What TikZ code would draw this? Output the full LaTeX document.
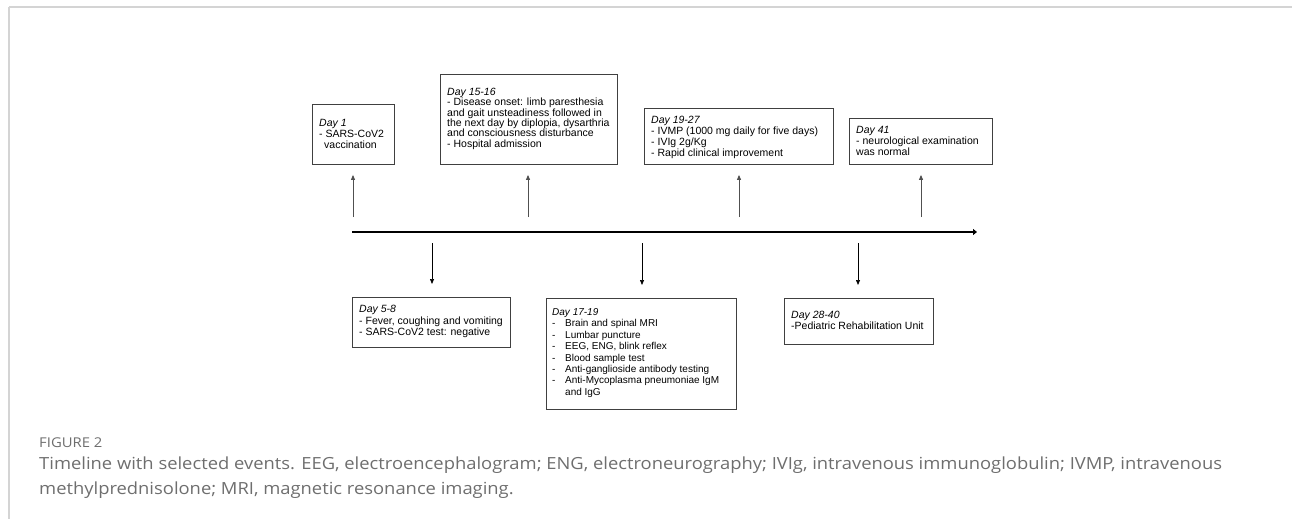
\documentclass[tikz,border=0pt]{standalone}
\usepackage{fontspec}
\setmainfont{Liberation Sans}
\newfontfamily\capfont[FakeStretch=1.1]{Open Sans}
\usetikzlibrary{arrows.meta}
\definecolor{framegray}{HTML}{D4D4D4}
\definecolor{capgray}{HTML}{6E6E6E}
\definecolor{boxline}{HTML}{404040}
\definecolor{arrgray}{HTML}{505050}
\newcommand\tllines[2]{\vtop{\baselineskip=#1\lineskiplimit=-100pt\lineskip=0pt\halign{##\hfil\cr #2\crcr}}}
\newcommand\itm[1]{\makebox[13pt][l]{-}#1}
\tikzset{
  evbox/.style={draw=boxline, line width=0.9pt, rectangle, inner sep=0pt, anchor=north west},
  evtext/.style={anchor=base west, inner sep=0pt, font=\fontsize{10.5}{10.5}\selectfont},
  uparr/.style={arrgray, line width=0.9pt, -{Triangle[length=5pt,width=4pt]}, shorten <=15pt, shorten >=10pt},
  downarr/.style={black, line width=0.7pt, -{Triangle[length=5pt,width=4pt]}, shorten <=11pt, shorten >=13pt},
  tline/.style={black, line width=2.6pt, -{Triangle[length=4pt,width=6pt]}},
}
\begin{document}
\begin{tikzpicture}[x=1pt,y=-1pt]
\useasboundingbox (0,0) rectangle (1292,519);
% frame
\draw[framegray, line width=2pt] (9,7.5) -- (1292,7.5);
\draw[framegray, line width=1.5pt] (9,7) -- (9,519);
% timeline
\coordinate (ts) at (352,232);
\coordinate (te) at (977,232);
\draw[tline] (ts) -- (te);
% top boxes
\node[evbox, minimum width=82pt, minimum height=60pt] (b1) at (312,104) {};
\node[evtext] (b1t) at (319,126.5) {\tllines{11pt}{\textit{Day 1}\cr - SARS-CoV2\cr \hspace*{5pt}vaccination}};
\node[evbox, minimum width=177pt, minimum height=90pt] (b2) at (440,74) {};
\node[evtext] (b2t) at (447,95.5) {\tllines{10.3pt}{\textit{Day 15-16}\cr - Disease onset: limb paresthesia\cr and gait unsteadiness followed in\cr the next day by diplopia, dysarthria\cr and consciousness disturbance\cr - Hospital admission}};
\node[evbox, minimum width=189pt, minimum height=56pt] (b3) at (644,108) {};
\node[evtext] (b3t) at (651,123) {\tllines{11pt}{\textit{Day 19-27}\cr - IVMP (1000 mg daily for five days)\cr - IVIg 2g/Kg\cr - Rapid clinical improvement}};
\node[evbox, minimum width=143pt, minimum height=46pt] (b4) at (849,118) {};
\node[evtext] (b4t) at (856,133) {\tllines{11.3pt}{\textit{Day 41}\cr - neurological examination\cr was normal}};
% bottom boxes
\node[evbox, minimum width=158pt, minimum height=50pt] (c1) at (352,297) {};
\node[evtext] (c1t) at (359,312.5) {\tllines{11.5pt}{\textit{Day 5-8}\cr - Fever, coughing and vomiting\cr - SARS-CoV2 test: negative}};
\node[evbox, minimum width=190pt, minimum height=111pt] (c2) at (546,298) {};
\node[evtext, font=\fontsize{10}{10}\selectfont] (c2t) at (552,315.5) {\tllines{11.4pt}{\textit{Day 17-19}\cr \itm{Brain and spinal MRI}\cr \itm{Lumbar puncture}\cr \itm{EEG, ENG, blink reflex}\cr \itm{Blood sample test}\cr \itm{Anti-ganglioside antibody testing}\cr \itm{Anti-Mycoplasma pneumoniae IgM}\cr \hspace*{13pt}and IgG}};
\node[evbox, minimum width=149pt, minimum height=46pt] (c3) at (784,298) {};
\node[evtext] (c3t) at (791,318.5) {\tllines{10.5pt}{\textit{Day 28-40}\cr -Pediatric Rehabilitation Unit}};
% arrow anchors on timeline
\coordinate (u1) at (353,232);
\coordinate (u2) at (528,232);
\coordinate (u3) at (739,232);
\coordinate (u4) at (921,232);
\coordinate (d1) at (432,232);
\coordinate (d2) at (642,232);
\coordinate (d3) at (858,232);
\draw[uparr] (u1) -- (u1 |- b1.south);
\draw[uparr] (u2) -- (u2 |- b2.south);
\draw[uparr] (u3) -- (u3 |- b3.south);
\draw[uparr] (u4) -- (u4 |- b4.south);
\draw[downarr] (d1) -- (d1 |- c1.north);
\draw[downarr] (d2) -- (d2 |- c2.north);
\draw[downarr] (d3) -- (d3 |- c3.north);
% caption
\node[anchor=base west, inner sep=0pt, text=capgray, font=\capfont\fontsize{13.5}{13.5}\selectfont] (fig) at (39,447) {FIGURE 2};
\node[anchor=base west, inner sep=0pt, text=capgray, font=\capfont\fontsize{16.7}{24}\selectfont] (cap) at (39,469) {\tllines{25pt}{Timeline with selected events. EEG, electroencephalogram; ENG, electroneurography; IVIg, intravenous immunoglobulin; IVMP, intravenous\cr methylprednisolone; MRI, magnetic resonance imaging.}};
\end{tikzpicture}
\end{document}
